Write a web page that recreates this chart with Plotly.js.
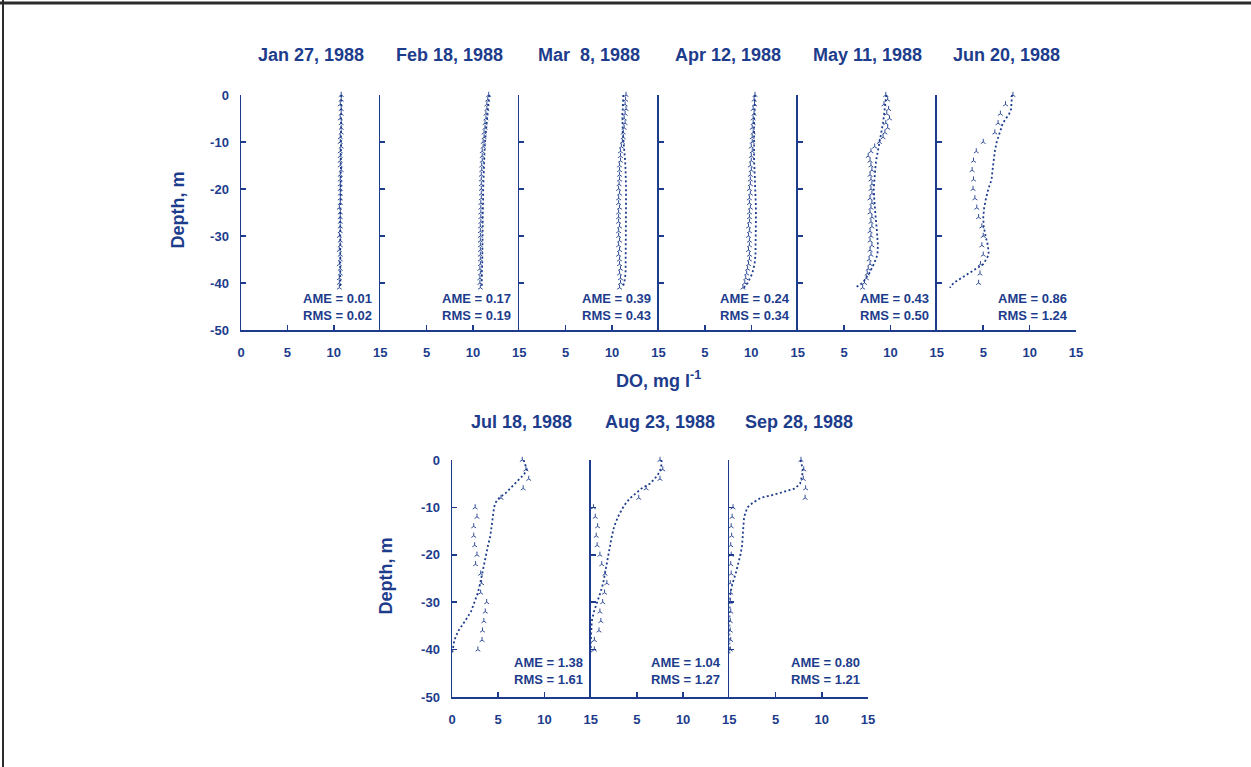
<!DOCTYPE html>
<html>
<head>
<meta charset="utf-8">
<script src="https://cdn.plot.ly/plotly-3.0.1.min.js"></script>
<style>
html,body{margin:0;padding:0;background:#fff;}
#chart{width:1251px;height:767px;}
</style>
</head>
<body>
<div id="chart"></div>
<script>
// ---------------- DATA ----------------
const titles = ["Jan 27, 1988","Feb 18, 1988","Mar  8, 1988","Apr 12, 1988","May 11, 1988","Jun 20, 1988",
                "Jul 18, 1988","Aug 23, 1988","Sep 28, 1988"];
const ameVals = ["0.01","0.17","0.39","0.24","0.43","0.86","1.38","1.04","0.80"];
const rmsVals = ["0.02","0.19","0.43","0.34","0.50","1.24","1.61","1.27","1.21"];

const xTickVals = [0,5,10,15];
const yTickVals = [0,-10,-20,-30,-40,-50];
const yTickText = ["0","-10","-20","-30","-40","-50"];

// depths (m) of model output
const dMod = [0,-1,-2,-3,-4,-5,-6,-7,-8,-9,-10,-12,-14,-16,-18,-20,-22,-24,-26,-28,-30,-32,-34,-36,-38,-40,-41];
// observation depths: 1 m profiles and 2 m profiles
const dObs1 = [0,-1,-2,-3,-4,-5,-6,-7,-8,-9,-10,-11,-12,-13,-14,-15,-16,-17,-18,-19,-20,-21,-22,-23,-24,-25,-26,-27,-28,-29,-30,-31,-32,-33,-34,-35,-36,-37,-38,-39,-40,-41];
const dObs2 = [0,-2,-4,-6,-8,-10,-12,-14,-16,-18,-20,-22,-24,-26,-28,-30,-32,-34,-36,-38,-40];

// DO, mg/l — model (dMod)
const janMod = [10.8,10.8,10.8,10.8,10.8,10.8,10.8,10.8,10.8,10.8,10.8,10.8,10.8,10.75,10.75,10.75,10.75,10.7,10.7,10.7,10.7,10.7,10.7,10.7,10.7,10.7,10.7];
const febMod = [11.75,11.7,11.65,11.6,11.55,11.5,11.45,11.4,11.35,11.3,11.3,11.25,11.2,11.15,11.1,11.1,11.1,11.05,11.05,11.05,11.05,11.0,11.0,11.0,10.95,10.95,10.95];
const marMod = [11.2,11.2,11.15,11.15,11.1,11.1,11.1,11.1,11.15,11.2,11.25,11.3,11.4,11.45,11.5,11.5,11.5,11.5,11.5,11.5,11.5,11.5,11.5,11.5,11.45,11.3,11.1];
const aprMod = [10.4,10.4,10.4,10.35,10.35,10.3,10.3,10.3,10.3,10.25,10.25,10.25,10.3,10.35,10.4,10.45,10.5,10.5,10.5,10.5,10.5,10.5,10.45,10.35,10.1,9.6,9.2];
const mayMod = [9.55,9.5,9.45,9.4,9.35,9.3,9.2,9.1,9.0,8.9,8.8,8.6,8.45,8.35,8.25,8.2,8.25,8.3,8.4,8.5,8.6,8.65,8.6,8.2,7.7,7.0,6.2];
const junMod = [8.1,8.05,8.0,8.0,7.8,7.4,7.1,6.95,6.8,6.6,6.45,6.25,6.1,6.0,5.9,5.55,5.3,5.1,5.0,5.05,5.25,5.5,5.6,5.0,3.4,1.8,1.4];
const julMod = [7.75,7.9,8.1,7.8,7.3,6.8,6.3,5.8,5.1,4.7,4.55,4.4,4.3,4.15,3.9,3.7,3.45,3.25,3.05,2.8,2.45,2.05,1.4,0.7,0.25,0.05,0.0];
const augMod = [7.65,7.65,7.55,7.3,6.9,6.4,5.5,4.9,4.3,3.85,3.5,2.95,2.55,2.3,2.1,1.95,1.75,1.55,1.35,1.05,0.7,0.35,0.12,0.05,0.02,0.0,0.0];
const sepMod = [7.7,7.8,7.95,7.9,7.8,7.65,7.1,5.4,3.4,2.55,1.95,1.6,1.52,1.45,1.38,1.2,0.95,0.68,0.35,0.12,0.03,0.0,0.0,0.0,0.0,0.0,0.0];

// DO, mg/l — observed
const janObs = [10.8,10.8,10.7,10.8,10.8,10.7,10.8,10.8,10.8,10.7,10.7,10.8,10.7,10.7,10.7,10.7,10.8,10.7,10.7,10.7,10.7,10.7,10.7,10.7,10.6,10.7,10.7,10.7,10.7,10.7,10.6,10.7,10.7,10.6,10.7,10.7,10.6,10.7,10.7,10.6,10.6,10.6];
const febObs = [11.7,11.6,11.5,11.5,11.4,11.4,11.3,11.3,11.2,11.2,11.1,11.1,11.0,11.0,11.0,10.95,10.95,10.9,10.9,10.9,10.9,10.9,10.9,10.85,10.85,10.85,10.85,10.85,10.8,10.8,10.8,10.8,10.8,10.8,10.8,10.8,10.8,10.75,10.8,10.75,10.75,10.8];
const marObs = [11.5,11.45,11.4,11.5,11.4,11.3,11.4,11.3,11.2,11.2,11.1,11.0,10.9,10.9,10.9,10.8,10.8,10.8,10.8,10.75,10.7,10.8,10.7,10.7,10.8,10.7,10.7,10.7,10.8,10.7,10.7,10.8,10.7,10.8,10.7,10.8,10.8,10.9,10.8,10.9,10.9,10.8];
const aprObs = [10.4,10.3,10.35,10.2,10.3,10.2,10.2,10.1,10.2,10.1,10.1,10.0,10.1,10.0,10.0,9.9,10.0,9.9,9.9,9.9,9.8,9.9,9.8,9.8,9.9,9.8,9.8,9.8,9.7,9.8,9.7,9.8,9.8,9.7,9.8,9.8,9.7,9.6,9.5,9.4,9.3,9.1];
const mayObs = [9.5,9.7,9.3,9.8,9.6,9.9,9.5,9.7,9.4,9.2,8.8,8.3,7.9,7.6,7.8,7.9,8.0,7.8,7.9,8.0,7.9,8.0,7.8,8.0,7.9,7.8,8.0,7.9,8.0,7.8,7.9,7.8,8.0,7.8,7.9,7.7,7.8,7.6,7.5,7.4,7.2,7.0];
const junObs = [8.2,7.4,6.85,6.6,6.25,5.0,4.25,3.95,3.8,3.95,3.9,4.1,4.3,4.5,4.85,5.0,4.85,5.0,4.7,4.65,4.5];
const julObs = [7.6,8.0,8.3,7.7,5.3,2.5,2.7,2.35,2.35,2.45,2.7,2.55,3.1,3.2,3.1,3.75,3.6,3.45,3.3,3.25,2.8];
const augObs = [7.5,7.8,7.5,6.0,5.2,0.3,0.5,0.75,0.6,0.7,1.0,1.2,1.55,1.75,1.5,1.3,1.0,1.1,0.9,0.4,0.4];
const sepObs = [7.75,8.05,8.0,8.25,8.2,0.4,0.3,0.2,0.25,0.15,0.2,0.15,0.2,0.1,0.15,0.1,0.15,0.1,0.1,0.15,0.1];

const modelSeries = [janMod,febMod,marMod,aprMod,mayMod,junMod,julMod,augMod,sepMod];
const obsSeries   = [janObs,febObs,marObs,aprObs,mayObs,junObs,julObs,augObs,sepObs];
const obsDepths   = [dObs1,dObs1,dObs1,dObs1,dObs1,dObs2,dObs2,dObs2,dObs2];

// ---------------- LAYOUT ----------------
const W = 1251, H = 767;
const NAVY = '#1d3c8c';
const FONT = 'Liberation Sans, Arial, sans-serif';
const fx = px => px / W;
const fy = py => 1 - py / H;

const rows = [
  {x0: 241, w: 139.17, yTop: 95, yBot: 330, n: 6, first: 0, titleY: 55, statY: 307, ylabX: 177},
  {x0: 452, w: 138.67, yTop: 460, yBot: 697, n: 3, first: 6, titleY: 422, statY: 671, ylabX: 385}
];

const data = [];
const layout = {
  width: W, height: H,
  margin: {l: 0, r: 0, t: 0, b: 0},
  paper_bgcolor: '#fff', plot_bgcolor: '#fff',
  showlegend: false,
  font: {family: FONT, color: NAVY, size: 13},
  annotations: [],
  shapes: [
    {type: 'line', xref: 'paper', yref: 'paper', x0: 0, x1: 1, y0: fy(3), y1: fy(3), line: {color: '#2b2b2b', width: 3}},
    {type: 'line', xref: 'paper', yref: 'paper', x0: fx(3), x1: fx(3), y0: 0, y1: 1, line: {color: '#2b2b2b', width: 2}}
  ]
};

rows.forEach((row, r) => {
  for (let j = 0; j < row.n; j++) {
    const i = row.first + j;
    const k = i + 1;
    const xs = k === 1 ? '' : String(k);
    const x0 = row.x0 + row.w * j, x1 = x0 + row.w;
    const isFirst = j === 0;
    layout['xaxis' + xs] = {
      domain: [fx(x0), fx(x1)], range: [0, 15], anchor: 'y' + xs,
      tickmode: 'array',
      tickvals: isFirst ? xTickVals : xTickVals.slice(1),
      ticktext: (isFirst ? xTickVals : xTickVals.slice(1)).map(String),
      ticks: 'inside', ticklen: 5, tickwidth: 1.5, tickcolor: NAVY,
      showline: true, linecolor: NAVY, linewidth: 1.5,
      showgrid: false, zeroline: false, fixedrange: true,
      ticklabelstandoff: 10,
      tickfont: {family: FONT, size: 13, color: NAVY, weight: 700}
    };
    layout['yaxis' + xs] = {
      domain: [fy(row.yBot), fy(row.yTop)], range: [-50, 0], anchor: 'x' + xs,
      tickmode: 'array', tickvals: yTickVals, ticktext: yTickText,
      showticklabels: isFirst,
      ticks: 'inside', ticklen: 5, tickwidth: 1.5, tickcolor: NAVY,
      showline: true, linecolor: NAVY, linewidth: 1.5,
      showgrid: false, zeroline: false, fixedrange: true,
      ticklabelstandoff: 8,
      tickfont: {family: FONT, size: 13, color: NAVY, weight: 700}
    };
    data.push({
      type: 'scatter', mode: 'lines', x: modelSeries[i], y: dMod,
      xaxis: 'x' + xs, yaxis: 'y' + xs, cliponaxis: false,
      line: {color: NAVY, width: 1.8, dash: '2px,2.5px'}, hoverinfo: 'skip'
    });
    data.push({
      type: 'scatter', mode: 'markers', x: obsSeries[i], y: obsDepths[i],
      xaxis: 'x' + xs, yaxis: 'y' + xs, cliponaxis: false,
      marker: {symbol: 'y-up', size: 4, color: NAVY, line: {color: NAVY, width: 0.9}}, hoverinfo: 'skip'
    });
    // panel title
    layout.annotations.push({
      xref: 'paper', yref: 'paper', x: fx((x0 + x1) / 2), y: fy(row.titleY),
      xanchor: 'center', yanchor: 'middle', showarrow: false,
      text: titles[i], font: {family: FONT, size: 18, color: NAVY, weight: 700}
    });
    // AME / RMS block
    layout.annotations.push({
      xref: 'paper', yref: 'paper', x: fx(x1 - 7), y: fy(row.statY),
      xanchor: 'right', yanchor: 'middle', align: 'right', showarrow: false, borderpad: 0,
      text: 'AME = ' + ameVals[i] + '<br>RMS = ' + rmsVals[i],
      font: {family: FONT, size: 13, color: NAVY, weight: 700}
    });
  }
  // y-axis title per row
  layout.annotations.push({
    xref: 'paper', yref: 'paper', x: fx(row.ylabX), y: fy((row.yTop + row.yBot) / 2 - 2),
    xanchor: 'center', yanchor: 'middle', showarrow: false, textangle: -90,
    text: 'Depth, m', font: {family: FONT, size: 18, color: NAVY, weight: 700}
  });
});

// shared x-axis title for the top row
layout.annotations.push({
  xref: 'paper', yref: 'paper', x: fx(658), y: fy(379),
  xanchor: 'center', yanchor: 'middle', showarrow: false,
  text: 'DO, mg l<sup>-1</sup>', font: {family: FONT, size: 18, color: NAVY, weight: 700}
});

Plotly.newPlot('chart', data, layout, {displayModeBar: false, staticPlot: true});
</script>
</body>
</html>
